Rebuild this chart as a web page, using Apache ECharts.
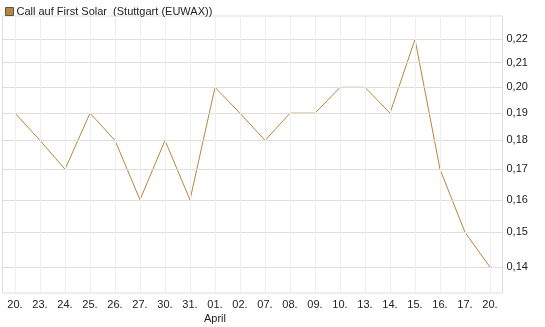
<!DOCTYPE html>
<html>
<head>
    <meta charset="utf-8">
    <title>Call auf First Solar</title>
    <script src="https://cdn.jsdelivr.net/npm/echarts@6/dist/echarts.min.js"></script>
    <style>
        html, body { margin: 0; padding: 0; background: #ffffff; }
        #chart { width: 545px; height: 327px; }
    </style>
</head>
<body>
    <div id="chart"></div>
    <script>
        // Daten
        const days = ['20.', '23.', '24.', '25.', '26.', '27.', '30.', '31.', '01.', '02.',
            '07.', '08.', '09.', '10.', '13.', '14.', '15.', '16.', '17.', '20.'];
        const prices = [0.19, 0.18, 0.17, 0.19, 0.18, 0.16, 0.18, 0.16, 0.20, 0.19,
            0.18, 0.19, 0.19, 0.20, 0.20, 0.19, 0.22, 0.17, 0.15, 0.14];
        const yTicks = [0.14, 0.15, 0.16, 0.17, 0.18, 0.19, 0.20, 0.21, 0.22];
        const monthLabel = 'April';
        const monthIndex = 8;

        const chart = echarts.init(document.getElementById('chart'));

        // Gitterlinien über markLine, weil die Achse logarithmisch ist
        let gridLines = yTicks.map(v => ({ yAxis: v }));
        days.forEach((d, i) => {
            gridLines.push({
                xAxis: i,
                label: { show: false },
                lineStyle: { color: '#eeeeee' }
            });
        });

        const option = {
            animation: false,
            textStyle: { fontFamily: 'Liberation Sans, Arial, sans-serif' },
            legend: {
                left: 0,
                top: 1,
                itemWidth: 8,
                itemHeight: 8,
                itemGap: 4,
                icon: 'rect',
                textStyle: { fontSize: 11, color: '#222', padding: [0, 0, 0, -2] },
                data: [{ name: 'Call auf First Solar  (Stuttgart (EUWAX))', itemStyle: { borderColor: '#555', borderWidth: 1 } }]
            },
            grid: {
                left: 2.5,
                right: 42.5,
                top: 16,
                bottom: 34,
                show: true,
                borderColor: '#dddddd',
                borderWidth: 1
            },
            xAxis: {
                type: 'category',
                boundaryGap: true,
                data: days,
                axisLine: { show: false },
                axisTick: { show: false },
                splitLine: { show: false },
                axisLabel: {
                    interval: 0,
                    fontSize: 11,
                    color: '#222',
                    margin: 5,
                    lineHeight: 14,
                    formatter: (v, i) => i === monthIndex ? v + '\n' + monthLabel : v
                }
            },
            yAxis: {
                type: 'log',
                logBase: 10,
                min: 0.133,
                max: 0.2304,
                position: 'right',
                axisLine: { show: false },
                axisTick: { show: false },
                axisLabel: { show: false },
                splitLine: { show: false }
            },
            series: [
                {
                    type: 'line',
                    z: 1,
                    data: prices,
                    symbol: 'none',
                    lineStyle: { opacity: 0 },
                    silent: true,
                    legendHoverLink: false,
                    markLine: {
                        silent: true,
                        symbol: 'none',
                        animation: false,
                        lineStyle: { color: '#dddddd', type: 'solid', width: 1 },
                        label: {
                            show: true,
                            position: 'end',
                            distance: 4,
                            fontSize: 11,
                            color: '#222',
                            formatter: p => p.value.toFixed(2).replace('.', ',')
                        },
                        data: gridLines
                    }
                },
                {
                    name: 'Call auf First Solar  (Stuttgart (EUWAX))',
                    type: 'line',
                    z: 3,
                    data: prices,
                    symbol: 'none',
                    color: '#b8863b',
                    lineStyle: { color: '#b8863b', width: 1 }
                }
            ]
        };
        chart.setOption(option);
    </script>
</body>
</html>
